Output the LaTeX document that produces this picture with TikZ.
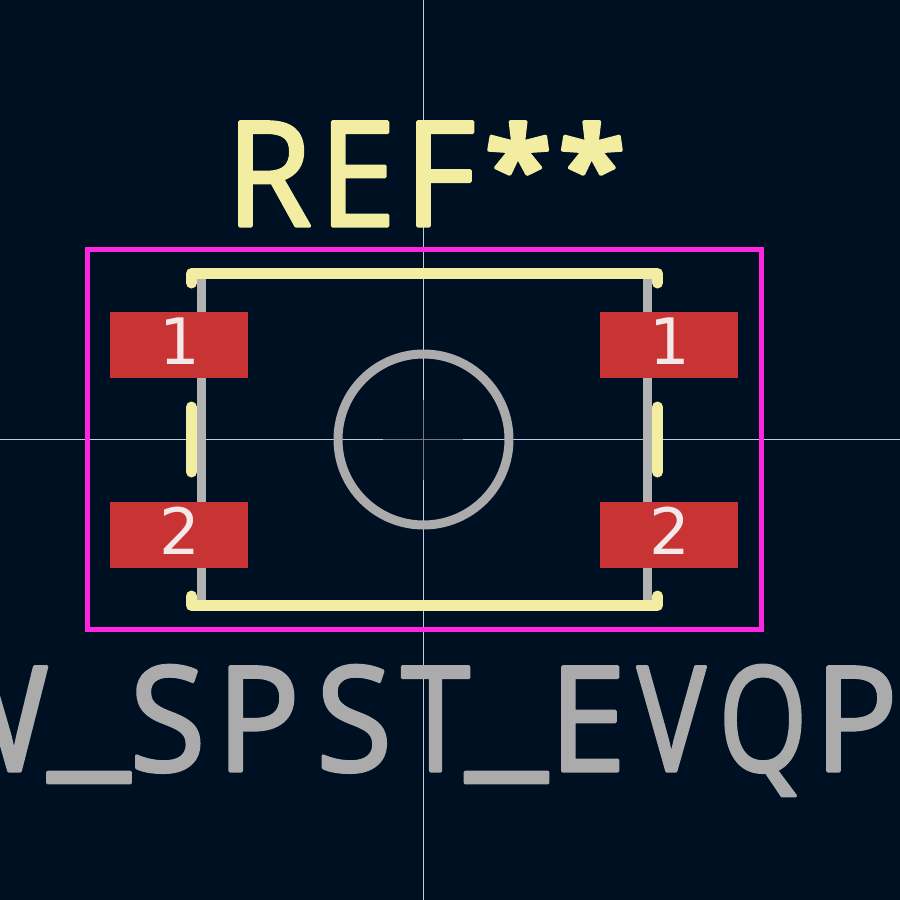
\documentclass[tikz,border=0pt]{standalone}
\usepackage{fontspec}
\usetikzlibrary{positioning}
\newfontfamily\strokefont[LetterSpace=7.5,FakeStretch=0.95,FakeBold=2.2]{Open Sans}
\newfontfamily\starfont[LetterSpace=7,FakeStretch=1.08,FakeBold=3]{Open Sans Bold}
\newfontfamily\padfont{DejaVu Sans}
\definecolor{boardbg}{HTML}{001023}
\definecolor{crosscol}{HTML}{C4CCD4}
\definecolor{centrecol}{HTML}{7A7A7A}
\definecolor{yardcol}{HTML}{FF26E2}
\definecolor{silkcol}{HTML}{F2EDA1}
\definecolor{fabcol}{HTML}{B2B2B2}
\definecolor{valcol}{HTML}{ABABAB}
\definecolor{padcol}{HTML}{C83434}
\definecolor{padtext}{HTML}{F5E8E8}
\newcommand{\roundjoin}{\special{pdf:code 1 j 1 J}}
\newcommand{\lowbar}{\raisebox{13pt}{\scalebox{1.3}[1.1]{\_}}}
\newcommand{\narrow}[2]{\scalebox{#1}[1]{#2}}
\tikzset{
  silk/.style={draw=silkcol,line width=11pt,line cap=round,line join=round},
  fabline/.style={draw=fabcol,line width=9pt},
  smdpad/.style={fill=padcol,minimum width=138pt,minimum height=66pt,inner sep=0pt,
    text=padtext,text height=46.7pt,text depth=8pt,font=\padfont\fontsize{64pt}{64pt}\selectfont,
    execute at begin node=\hspace*{2pt}},
  bigtext/.style={inner sep=0pt,anchor=base west,font=\strokefont\fontsize{146pt}{146pt}\selectfont}
}
\begin{document}
\begin{tikzpicture}[x=1pt,y=-1pt]
    \useasboundingbox (0,0) rectangle (900,900);
    \clip (0,0) rectangle (900,900);
    \fill[boardbg] (0,0) rectangle (900,900);
    %% crosshair
    \draw[crosscol,line width=1pt] (423.5,0) -- (423.5,900);
    \draw[crosscol,line width=1pt] (0,439.5) -- (900,439.5);
    \draw[centrecol,line width=1pt] (423.5,400) -- (423.5,480);
    \draw[centrecol,line width=1pt] (383,439.5) -- (463,439.5);
    %% fabrication outline and button
    \draw[fabline] (201.5,273.5) -- (201.5,605.5);
    \draw[fabline] (647.5,273.5) -- (647.5,605.5);
    \node[draw=valcol,line width=9pt,circle,minimum size=171pt,inner sep=0pt] (button) at (423.5,439.5) {};
    %% courtyard
    \draw[yardcol,line width=5pt] (87.5,249.5) rectangle (761.5,629.5);
    %% silkscreen
    \draw[silk] (191.5,283) -- (191.5,273.5) -- (657.5,273.5) -- (657.5,283);
    \draw[silk] (191.5,596) -- (191.5,605.5) -- (657.5,605.5) -- (657.5,596);
    \draw[silk] (191.5,407) -- (191.5,472);
    \draw[silk] (657.5,407) -- (657.5,472);
    %% pads
    \node[smdpad] (padla) at (179,345) {1};
    \node[smdpad] (padlb) at (179,535) {2};
    \node[smdpad] (padra) at (669,345) {1};
    \node[smdpad] (padrb) at (669,535) {2};
    %% reference and value
    \node[bigtext,text=silkcol] (reftext) at (226,226) {\roundjoin R\kern7pt E\kern8pt F};
    \node[bigtext,text=silkcol,font=\starfont\fontsize{112pt}{112pt}\selectfont] (refstars) at (485,207) {\roundjoin **};
    \node[bigtext,text=valcol] (valtext) at (-80,771) {\roundjoin W\lowbar SP\kern16pt S\kern9pt\narrow{0.9}{T}\kern-4pt\lowbar\kern2pt E\kern11pt\narrow{0.83}{V}\kern13pt\narrow{0.82}{Q}\kern7pt P};
\end{tikzpicture}
\end{document}
